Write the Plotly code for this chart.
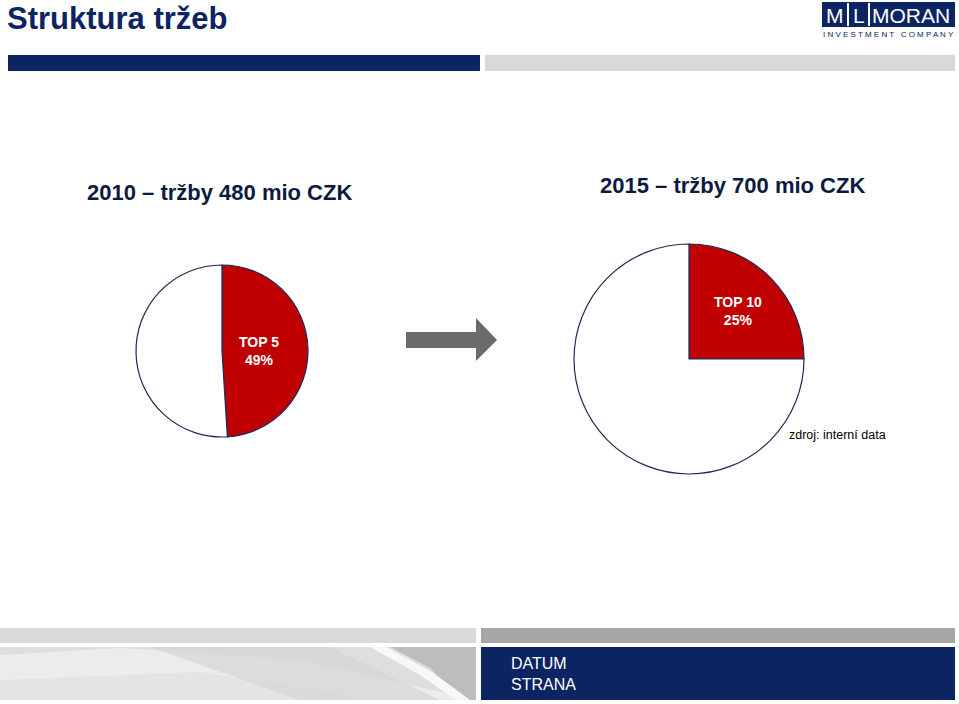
import plotly.graph_objects as go

W, H = 959, 704

# ---- data ----
pie1_labels = ["TOP 5", "ostatní"]
pie1_values = [49, 51]
pie2_labels = ["TOP 10", "ostatní"]
pie2_values = [25, 75]
title_main = "Struktura tržeb"
title1 = "2010 – tržby 480 mio CZK"
title2 = "2015 – tržby 700 mio CZK"
source_text = "zdroj: interní data"
footer_lines = ["DATUM", "STRANA"]

NAVY = "#0c2461"
RED = "#c00000"
EDGE = "#1f2a55"


def px(x):
    return x / W


def py(y):
    return 1 - y / H


def rect(x0, y0, x1, y1, color, **kw):
    return dict(type="rect", xref="paper", yref="paper",
                x0=px(x0), x1=px(x1), y0=py(y1), y1=py(y0),
                fillcolor=color, line=dict(width=0), layer="below", **kw)


def poly(pts, color, **kw):
    path = "M " + " L ".join(f"{px(x)},{py(y)}" for x, y in pts) + " Z"
    return dict(type="path", xref="paper", yref="paper", layer="below",
                path=path, fillcolor=color, line=dict(width=0), **kw)


fig = go.Figure()

fig.add_trace(go.Pie(
    labels=pie1_labels, values=pie1_values, sort=False, direction="clockwise",
    rotation=0, textinfo="none", hoverinfo="label+percent",
    marker=dict(colors=[RED, "white"], line=dict(color=EDGE, width=1.2)),
    domain=dict(x=[px(136), px(308)], y=[py(437), py(265)]),
))
fig.add_trace(go.Pie(
    labels=pie2_labels, values=pie2_values, sort=False, direction="clockwise",
    rotation=0, textinfo="none", hoverinfo="label+percent",
    marker=dict(colors=[RED, "white"], line=dict(color=EDGE, width=1.2)),
    domain=dict(x=[px(574), px(804)], y=[py(474), py(244)]),
))

shapes = []
# top bars
shapes.append(rect(8, 55, 480, 71, NAVY))
shapes.append(rect(485, 55, 955, 71, "#d9d9d9"))
# logo
shapes.append(rect(822, 2, 955, 27, NAVY))
for xd in (848, 869):
    shapes.append(dict(type="line", xref="paper", yref="paper",
                       x0=px(xd), x1=px(xd), y0=py(3), y1=py(26),
                       line=dict(color="white", width=2)))
# bottom bars
shapes.append(rect(0, 628, 476, 643, "#d9d9d9"))
shapes.append(rect(481, 628, 955, 643, "#a6a6a6"))
shapes.append(rect(481, 647, 955, 700, NAVY))
# silver gradient block
shapes.append(rect(0, 647, 476, 700, "#dedede"))
shapes.append(poly([(0, 655), (120, 648), (300, 660), (476, 700), (0, 700)], "#ececec"))
shapes.append(poly([(0, 680), (200, 672), (380, 700), (0, 700)], "#e4e4e4"))
shapes.append(poly([(150, 647), (330, 647), (440, 700), (300, 700)], "#d6d6d6", opacity=0.7))
shapes.append(poly([(390, 647), (476, 647), (476, 700), (460, 700), (430, 668)], "#bdbdbd"))
shapes.append(poly([(370, 647), (386, 647), (432, 672), (470, 700), (456, 700), (420, 675)], "#f8f8f8"))
# arrow
shapes.append(dict(type="path", xref="paper", yref="paper",
                   path=(f"M {px(406)},{py(332)} L {px(476)},{py(332)} L {px(476)},{py(318)} "
                         f"L {px(497)},{py(340)} L {px(476)},{py(361)} L {px(476)},{py(348)} "
                         f"L {px(406)},{py(348)} Z"),
                   fillcolor="#6b6b6b", line=dict(width=0)))

ann = []
ann.append(dict(text=f"<b>{title_main}</b>", x=px(6), y=py(0), xanchor="left", yanchor="top",
                borderpad=0,
                font=dict(size=31, color=NAVY, family="Liberation Sans, Arial")))
ann.append(dict(text=f"<b>{title1}</b>", x=px(219), y=py(192), xanchor="center", yanchor="middle",
                font=dict(size=22, color="#0d1a40", family="Liberation Sans, Arial")))
ann.append(dict(text=f"<b>{title2}</b>", x=px(732), y=py(186), xanchor="center", yanchor="middle",
                font=dict(size=22, color="#0d1a40", family="Liberation Sans, Arial")))
ann.append(dict(text=f"<b>{pie1_labels[0]}<br>{pie1_values[0]}%</b>", x=px(259), y=py(351),
                xanchor="center", yanchor="middle",
                font=dict(size=14, color="white", family="Liberation Sans, Arial")))
ann.append(dict(text=f"<b>{pie2_labels[0]}<br>{pie2_values[0]}%</b>", x=px(738), y=py(311),
                xanchor="center", yanchor="middle",
                font=dict(size=14, color="white", family="Liberation Sans, Arial")))
ann.append(dict(text=source_text, x=px(787), y=py(435), xanchor="left", yanchor="middle",
                font=dict(size=12.5, color="black", family="Liberation Sans, Arial")))
ann.append(dict(text=footer_lines[0], x=px(509), y=py(663), xanchor="left", yanchor="middle",
                font=dict(size=16, color="white", family="Liberation Sans Narrow, Liberation Sans, Arial")))
ann.append(dict(text=footer_lines[1], x=px(509), y=py(684), xanchor="left", yanchor="middle",
                font=dict(size=16, color="white", family="Liberation Sans Narrow, Liberation Sans, Arial")))
# logo texts
for t, xc in (("M", 835), ("L", 858.5), ("MORAN", 911)):
    ann.append(dict(text=t, x=px(xc), y=py(15), xanchor="center", yanchor="middle",
                    font=dict(size=21, color="white", family="Liberation Sans Narrow, Liberation Sans, Arial")))
ann.append(dict(text="I N V E S T M E N T   C O M P A N Y", x=px(888.5), y=py(35),
                xanchor="center", yanchor="middle",
                font=dict(size=8, color=NAVY, family="Liberation Sans, Arial")))

for a in ann:
    a.update(xref="paper", yref="paper", showarrow=False)

fig.update_layout(
    width=W, height=H, margin=dict(l=0, r=0, t=0, b=0),
    paper_bgcolor="white", plot_bgcolor="white", showlegend=False,
    shapes=shapes, annotations=ann,
)

fig.write_html("out.html")
